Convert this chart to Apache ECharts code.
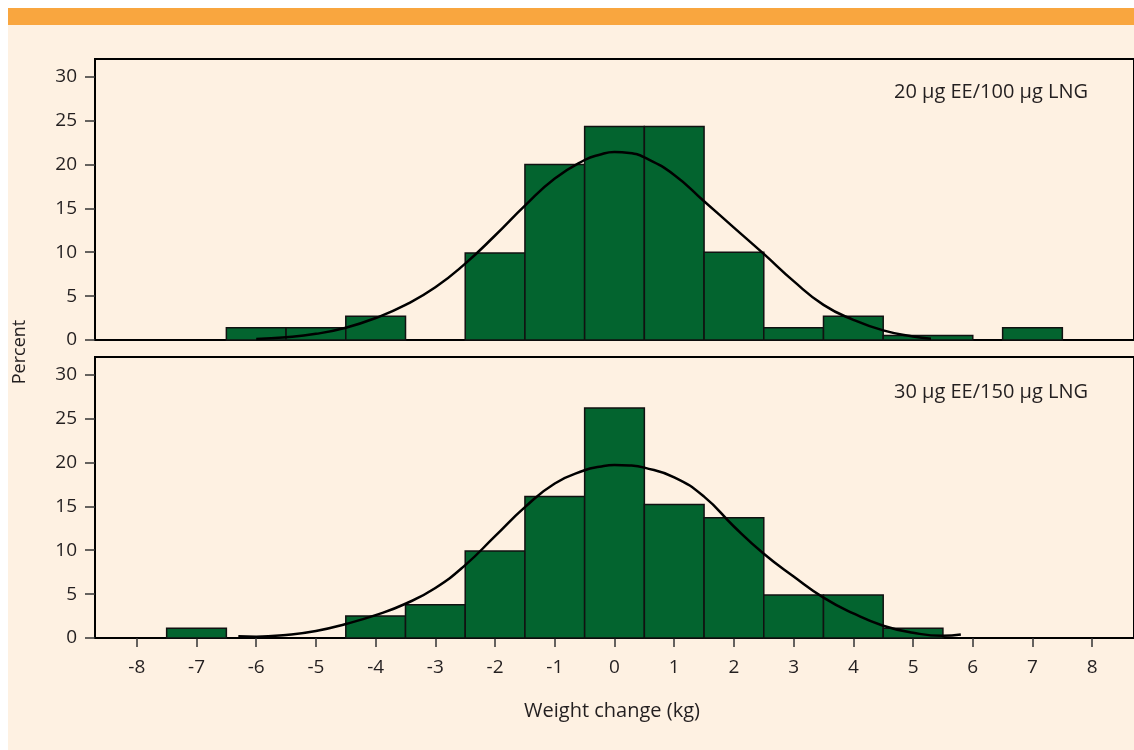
<!DOCTYPE html>
<html>
<head>
<meta charset="utf-8">
<style>
  html, body { margin: 0; padding: 0; background: #ffffff; }
  #chart { width: 1134px; height: 750px; }
</style>
<script src="https://cdn.jsdelivr.net/npm/echarts@6/dist/echarts.min.js"></script>
</head>
<body>
<div id="chart"></div>
<script>
// ---- Data ----
var xTickValues = [-8, -7, -6, -5, -4, -3, -2, -1, 0, 1, 2, 3, 4, 5, 6, 7, 8];
var yTickValues = [0, 5, 10, 15, 20, 25, 30];

var topLabel = '20 µg EE/100 µg LNG';
var bottomLabel = '30 µg EE/150 µg LNG';

// Top panel histogram: bin edges (kg) and percent
var topBinStart = [-6.5, -5.5, -4.5, -2.5, -1.5, -0.5, 0.5, 1.5, 2.5, 3.5, 4.5, 6.5];
var topBinEnd   = [-5.5, -4.5, -3.5, -1.5, -0.5, 0.5, 1.5, 2.5, 3.5, 4.5, 6.0, 7.5];
var topPercent  = [1.4, 1.4, 2.7, 9.9, 20.0, 24.3, 24.3, 10.0, 1.4, 2.7, 0.5, 1.4];

// Bottom panel histogram
var bottomBinStart = [-7.5, -4.5, -3.5, -2.5, -1.5, -0.5, 0.5, 1.5, 2.5, 3.5, 4.5];
var bottomBinEnd   = [-6.5, -3.5, -2.5, -1.5, -0.5, 0.5, 1.5, 2.5, 3.5, 4.5, 5.5];
var bottomPercent  = [1.1, 2.5, 3.8, 9.9, 16.1, 26.2, 15.2, 13.7, 4.9, 4.9, 1.1];

// Fitted curves
var topCurveX = [-6.0, -5.5, -5.0, -4.5, -4.0, -3.5, -3.0, -2.5, -2.0, -1.5, -1.0, -0.5, -0.25, 0.0, 0.25, 0.5, 1.0, 1.5, 2.0, 2.5, 3.0, 3.5, 4.0, 4.5, 5.0, 5.3];
var topCurveY = [0.1, 0.3, 0.7, 1.4, 2.5, 4.0, 6.0, 8.7, 11.9, 15.3, 18.4, 20.5, 21.1, 21.4, 21.3, 20.8, 18.8, 15.8, 12.8, 9.8, 6.7, 4.0, 2.3, 1.1, 0.4, 0.15];

var bottomCurveX = [-6.3, -6.0, -5.5, -5.0, -4.5, -4.0, -3.5, -3.0, -2.5, -2.0, -1.5, -1.0, -0.5, -0.25, 0.0, 0.25, 0.5, 1.0, 1.5, 2.0, 2.5, 3.0, 3.5, 4.0, 4.5, 5.0, 5.5, 5.8];
var bottomCurveY = [0.2, 0.15, 0.35, 0.8, 1.6, 2.6, 3.9, 5.7, 8.3, 11.6, 14.9, 17.6, 19.1, 19.5, 19.7, 19.65, 19.4, 18.3, 16.1, 12.7, 9.6, 7.0, 4.6, 2.8, 1.4, 0.6, 0.25, 0.4];

// ---- Build ----
function zip3(a, b, c) { return a.map(function (v, i) { return [v, b[i], c[i]]; }); }
function zip2(a, b) { return a.map(function (v, i) { return [v, b[i]]; }); }

var FONT = 'Open Sans';
var TXT = '#231f20';
var GREEN = '#03642f';

function renderBin(params, api) {
  var x0 = api.value(0), x1 = api.value(1), v = api.value(2);
  var p0 = api.coord([x0, v]);
  var p1 = api.coord([x1, 0]);
  return {
    type: 'rect',
    shape: { x: p0[0], y: p0[1], width: p1[0] - p0[0], height: p1[1] - p0[1] },
    style: { fill: GREEN, stroke: '#111', lineWidth: 1.5 }
  };
}

function xAxisCfg(idx, showLabels) {
  return {
    type: 'value', gridIndex: idx, min: -8.7, max: 8.7,
    axisLine: { show: true, onZero: false, lineStyle: { color: '#000', width: 2 } },
    axisTick: { show: showLabels, customValues: xTickValues, length: 9, lineStyle: { color: '#333', width: 1.5 } },
    axisLabel: { show: showLabels, customValues: xTickValues, fontSize: 19, color: TXT, fontFamily: FONT, margin: 20 },
    splitLine: { show: false }
  };
}
function yAxisCfg(idx) {
  return {
    type: 'value', gridIndex: idx, min: 0, max: 32,
    axisLine: { show: true, onZero: false, lineStyle: { color: '#000', width: 2 } },
    axisTick: { show: true, customValues: yTickValues, length: 10, lineStyle: { color: '#333', width: 1.5 } },
    axisLabel: { customValues: yTickValues, fontSize: 19, color: TXT, fontFamily: FONT, margin: 18 },
    splitLine: { show: false }
  };
}

var chart = echarts.init(document.getElementById('chart'), null, { renderer: 'canvas' });
chart.setOption({
  backgroundColor: '#ffffff',
  animation: false,
  textStyle: { fontFamily: FONT },
  graphic: [
    { type: 'rect', z: -10, silent: true, shape: { x: 8, y: 8, width: 1126, height: 742 }, style: { fill: '#fef1e2' } },
    { type: 'rect', z: -9, silent: true, shape: { x: 8, y: 8, width: 1126, height: 17 }, style: { fill: '#f9a63f' } },
    { type: 'text', x: 1088, y: 92, style: { text: topLabel, fontSize: 20, fill: TXT, fontFamily: FONT, align: 'right', verticalAlign: 'middle' } },
    { type: 'text', x: 1088, y: 392, style: { text: bottomLabel, fontSize: 20, fill: TXT, fontFamily: FONT, align: 'right', verticalAlign: 'middle' } },
    { type: 'text', x: 20, y: 352, rotation: Math.PI / 2, style: { text: 'Percent', fontSize: 18, fill: TXT, fontFamily: FONT, align: 'center', verticalAlign: 'middle' } },
    { type: 'text', x: 612, y: 711, style: { text: 'Weight change (kg)', fontSize: 20, fill: TXT, fontFamily: FONT, align: 'center', verticalAlign: 'middle' } }
  ],
  grid: [
    { left: 95, right: -5, top: 59, height: 281, show: true, borderColor: '#000', borderWidth: 2, backgroundColor: 'transparent' },
    { left: 95, right: -5, top: 357, height: 281, show: true, borderColor: '#000', borderWidth: 2, backgroundColor: 'transparent' }
  ],
  xAxis: [xAxisCfg(0, false), xAxisCfg(1, true)],
  yAxis: [yAxisCfg(0), yAxisCfg(1)],
  series: [
    { type: 'custom', xAxisIndex: 0, yAxisIndex: 0, renderItem: renderBin, encode: { x: [0, 1], y: 2 }, data: zip3(topBinStart, topBinEnd, topPercent), z: 2 },
    { type: 'custom', xAxisIndex: 1, yAxisIndex: 1, renderItem: renderBin, encode: { x: [0, 1], y: 2 }, data: zip3(bottomBinStart, bottomBinEnd, bottomPercent), z: 2 },
    { type: 'line', xAxisIndex: 0, yAxisIndex: 0, data: zip2(topCurveX, topCurveY), smooth: 0.5, showSymbol: false, lineStyle: { color: '#000', width: 2.5 }, z: 5 },
    { type: 'line', xAxisIndex: 1, yAxisIndex: 1, data: zip2(bottomCurveX, bottomCurveY), smooth: 0.5, showSymbol: false, lineStyle: { color: '#000', width: 2.5 }, z: 5 }
  ]
});
</script>
</body>
</html>
